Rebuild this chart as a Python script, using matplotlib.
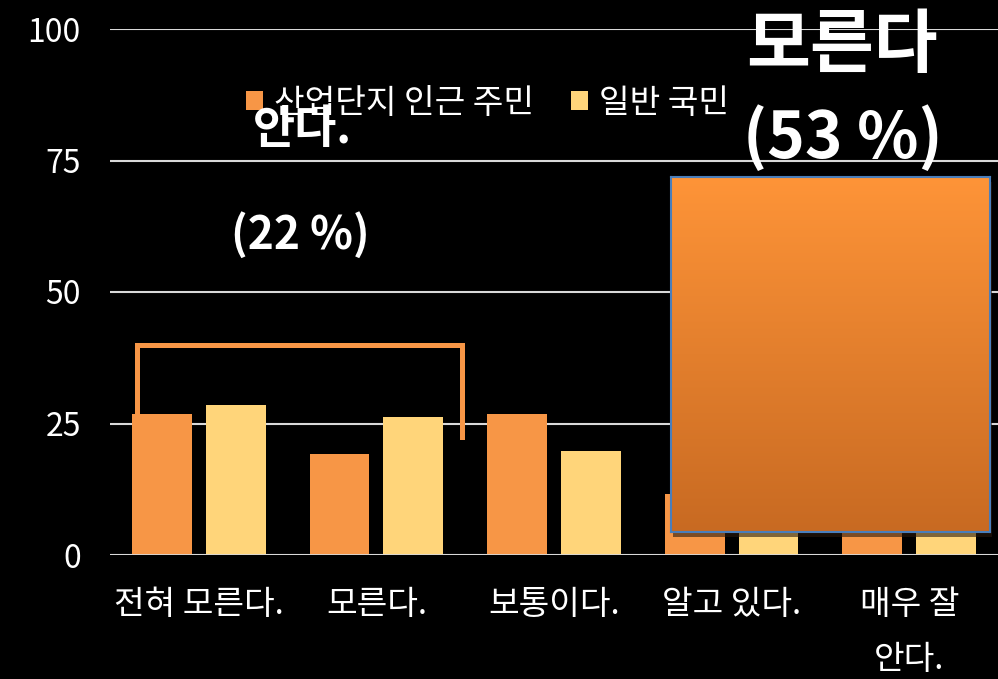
import matplotlib
matplotlib.use("Agg")
import matplotlib.pyplot as plt
import numpy as np
from matplotlib.patches import Rectangle, Patch
from matplotlib.lines import Line2D

plt.rcParams['font.family'] = ['Noto Sans CJK KR', 'DejaVu Sans']

categories = ["전혀 모른다.", "모른다.", "보통이다.", "알고 있다.", "매우 잘\n안다."]
series_names = ["산업단지 인근 주민", "일반 국민"]
residents = [26.9, 19.2, 26.9, 11.6, 10.0]
general = [28.5, 26.3, 19.8, 17.0, 8.0]
yticks = [0, 25, 50, 75, 100]
note_left = ["안다.", "(22 %)"]
note_right = ["모른다", "(53 %)"]

C_OR = "#F79646"
C_YE = "#FFD57A"
W, H = 998, 679

fig = plt.figure(figsize=(W / 100, H / 100), dpi=100, facecolor="black")

def fx(px):
    return px / W

def fy(py):
    return 1 - py / H

ax = fig.add_axes([fx(110), fy(555), fx(998) - fx(110), fy(29) - fy(555)])
ax.set_facecolor("black")
x = np.arange(len(categories))
bw = 0.337
off = 0.208
ax.bar(x - off, residents, bw, color=C_OR, zorder=3)
ax.bar(x + off, general, bw, color=C_YE, zorder=3)
ax.set_xlim(-0.5, 4.5)
ax.set_ylim(0, 100)
ax.set_yticks(yticks)
ax.set_yticklabels([str(v) for v in yticks])
ax.set_xticks(x)
ax.set_xticklabels(categories, linespacing=1.75)
ax.tick_params(axis="both", length=0, colors="white")
ax.tick_params(axis="y", pad=21, labelsize=23)
ax.tick_params(axis="x", pad=23, labelsize=24)
ax.grid(axis="y", color="#D9D9D9", linewidth=1.5, zorder=1)
for s in ax.spines.values():
    s.set_visible(False)
ax.axhline(0, color="#D9D9D9", linewidth=2, zorder=4)

# legend
handles = [Patch(facecolor=C_OR), Patch(facecolor=C_YE)]
leg = fig.legend(handles, series_names, loc="center left",
                 bbox_to_anchor=(fx(246), fy(103)), ncol=2, frameon=False,
                 fontsize=24, labelcolor="white", handlelength=0.5,
                 handleheight=0.5, handletextpad=0.35, columnspacing=1.1,
                 borderaxespad=0, borderpad=0)
leg.set_zorder(5)

# bracket
bx = [fx(137), fx(137), fx(462), fx(462)]
by = [fy(437), fy(345), fy(345), fy(437)]
fig.add_artist(Line2D(bx, by, color=C_OR, linewidth=3.6, zorder=6,
                      solid_joinstyle="miter", transform=fig.transFigure))

# gradient box
x0, x1, y0, y1 = 671, 990, 177, 532
fig.add_artist(Rectangle((fx(x0 + 2), fy(y1 + 5)), fx(x1 - x0), fy(y0) - fy(y1),
                         transform=fig.transFigure, facecolor="#2a1a0c",
                         edgecolor="none", alpha=0.6, zorder=6))
gax = fig.add_axes([fx(x0), fy(y1), fx(x1 - x0), fy(y0) - fy(y1)], zorder=7)
top = np.array([0xFE, 0x94, 0x38]) / 255
bot = np.array([0xC8, 0x6A, 0x22]) / 255
t = np.linspace(0, 1, 256)[:, None]
grad = top[None, :] * (1 - t) + bot[None, :] * t
gax.imshow(grad[:, None, :], aspect="auto", extent=[0, 1, 0, 1])
gax.set_xticks([])
gax.set_yticks([])
for s in gax.spines.values():
    s.set_color("#4A7EBB")
    s.set_linewidth(1.5)

# big notes
fig.text(fx(302), fy(130), note_left[0], color="white", fontsize=33,
         fontweight="bold", ha="center", va="center", zorder=10)
fig.text(fx(300), fy(235), note_left[1], color="white", fontsize=32,
         fontweight="bold", ha="center", va="center", zorder=10)
fig.text(fx(842), fy(47), note_right[0], color="white", fontsize=50,
         fontweight="bold", ha="center", va="center", zorder=10)
fig.text(fx(843), fy(139), note_right[1], color="white", fontsize=46,
         fontweight="bold", ha="center", va="center", zorder=10)

fig.savefig("out.png", dpi=100, facecolor="black")
